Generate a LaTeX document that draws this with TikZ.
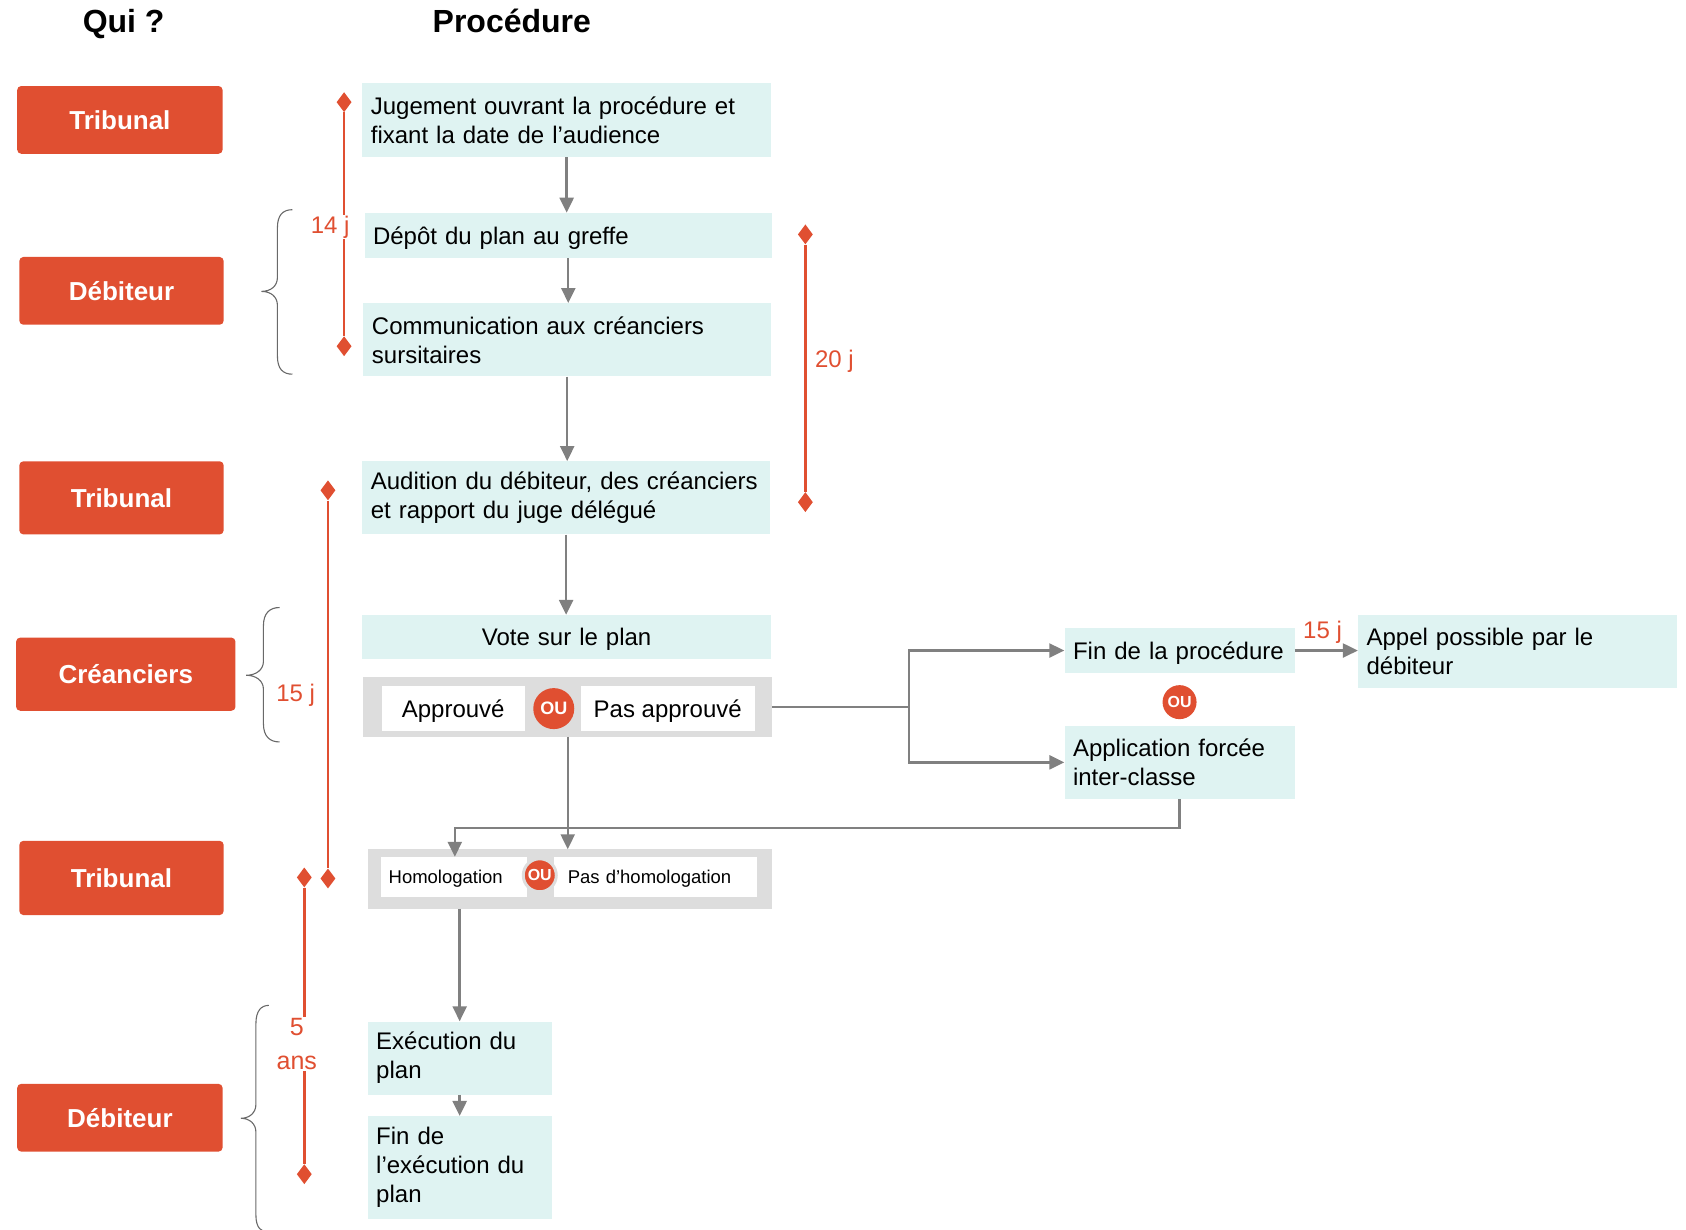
\documentclass[tikz,border=0pt]{standalone}
\usepackage{fontspec}
\setmainfont{Liberation Sans}
\usetikzlibrary{shapes.geometric,arrows.meta,calc}
\definecolor{ored}{RGB}{224,79,49}
\definecolor{cyanbg}{RGB}{223,243,242}
\definecolor{graybg}{RGB}{221,221,221}
\definecolor{arrgray}{RGB}{128,128,128}
\definecolor{bracegray}{RGB}{105,105,105}
\begin{document}
\begin{tikzpicture}[x=1.0753pt,y=-1.0753pt,
  who/.style 2 args={fill=ored, rounded corners=4pt, minimum width=#1*1.0753pt, minimum height=#2*1.0753pt, inner sep=0pt, text=white, font=\fontsize{26}{30}\selectfont\bfseries},
  pbox/.style 2 args={fill=cyanbg, minimum width=#1*1.0753pt, minimum height=#2*1.0753pt, text width=#1*1.0753pt-17pt, inner xsep=8.5pt, inner ysep=0pt, align=left, font=\fontsize{24}{29}\selectfont},
  oneline/.style={text depth=0pt},
  gbox/.style 2 args={fill=graybg, minimum width=#1*1.0753pt, minimum height=#2*1.0753pt, inner sep=0pt},
  wbox/.style 2 args={fill=white, minimum width=#1*1.0753pt, minimum height=#2*1.0753pt, inner sep=0pt, text depth=0pt},
  oucirc/.style={circle, fill=ored, text=white, inner sep=0pt, font=\bfseries},
  diam/.style={diamond, fill=ored, inner sep=0pt, minimum width=15pt, minimum height=20pt},
  tl/.style={draw=ored, line width=2.5pt},
  tlab/.style={text=ored, font=\fontsize{24}{29}\selectfont, inner sep=1pt},
  arr/.style={draw=arrgray, line width=2.4pt, -{Triangle[length=15pt,width=14pt]}},
  ln/.style={draw=arrgray, line width=2.4pt},
  brace/.style={draw=bracegray, line width=1.1pt},
  head/.style={font=\fontsize{32}{36}\selectfont\bfseries, text height=23pt, text depth=0.5pt}
]
\useasboundingbox (0,0) rectangle (1568,1143);

% headers
\node[head] (hqui) at (115,20) {Qui ?};
\node[head] (hproc) at (476,20) {Procédure};

% who boxes
\node[who={191}{63}] (w1) at (111.5,111.5) {Tribunal};
\node[who={190}{63}] (w2) at (113,270.5) {Débiteur};
\node[who={190}{68}] (w3) at (113,463) {Tribunal};
\node[who={204}{68}] (w4) at (117,627) {Créanciers};
\node[who={190}{69}] (w5) at (113,816.5) {Tribunal};
\node[who={191}{63}] (w6) at (111.5,1039.5) {Débiteur};

% procedure boxes
\node[pbox={380}{69}] (J) at (527,111.5) {Jugement ouvrant la procédure et\\fixant la date de l’audience};
\node[pbox={379}{42}, oneline] (Dp) at (528.5,219) {Dépôt du plan au greffe};
\node[pbox={379}{68}] (Cm) at (527.5,316) {Communication aux créanciers\\sursitaires};
\node[pbox={379}{68}] (Au) at (526.5,463) {Audition du débiteur, des créanciers\\et rapport du juge délégué};
\node[pbox={380}{41}, oneline, align=center] (V) at (527,592.5) {Vote sur le plan};

\node[gbox={380}{55}] (G1) at (528,657.5) {};
\node[wbox={133}{42}, font=\fontsize{24}{29}\selectfont] (Ap) at (421.5,659) {Approuvé};
\node[wbox={162}{42}, font=\fontsize{24}{29}\selectfont] (PA) at (621,659) {Pas approuvé};
\node[oucirc, minimum size=41pt, font=\fontsize{18}{20}\selectfont\bfseries] (ou1) at (515,659) {OU};

\node[gbox={376}{55}] (G2) at (530,817.5) {};
\node[wbox={136}{37}, text width=136*1.0753pt-16pt, inner xsep=8pt, align=left, font=\fontsize{18.5}{22}\selectfont] (H) at (422,815.5) {Homologation};
\node[wbox={189}{37}, text width=189*1.0753pt-28pt, inner xsep=14pt, align=left, font=\fontsize{18.5}{22}\selectfont] (PH) at (609.5,815.5) {Pas d’homologation};
\node[oucirc, draw=graybg, line width=3pt, minimum size=33pt, font=\fontsize{16}{18}\selectfont\bfseries] (ou2) at (502,814) {OU};

\node[pbox={171}{68}] (E) at (427.5,984) {Exécution du\\plan};
\node[pbox={171}{96}] (F) at (427.5,1086) {Fin de\\l’exécution du\\plan};

\node[pbox={214}{42}, oneline] (FP) at (1097,605) {Fin de la procédure};
\node[oucirc, minimum size=34pt, font=\fontsize{16}{18}\selectfont\bfseries] (ou3) at (1097,653) {OU};
\node[pbox={214}{68}] (AF) at (1097,709) {Application forcée\\inter-classe};
\node[pbox={297}{68}] (AP) at (1411.5,606) {Appel possible par le\\débiteur};

% connectors
\draw[arr] (J.south) -- (J.south |- Dp.north);
\draw[arr] (Dp.south) -- (Dp.south |- Cm.north);
\draw[arr] (Cm.south) -- (Cm.south |- Au.north);
\draw[arr] (Au.south) -- (Au.south |- V.north);
\draw[arr] (G1.south) -- (G1.south |- G2.north);
\coordinate (j1) at ($(G1.east)+(127,0)$);
\draw[ln] (G1.east) -- (j1);
\draw[arr] (j1) |- (FP.west);
\draw[arr] (j1) |- (AF.west);
\draw[arr] (FP.east) -- (FP.east -| AP.west);
\node[tlab] (l15b) at (1230,588) {15 j};
\coordinate (j2) at (423,770);
\draw[arr] (AF.south) |- (j2) -- (j2 |- H.north);
\draw[arr] (E.north |- G2.south) -- (E.north);
\draw[arr] (E.south) -- (E.south |- F.north);

% timelines
\node[diam] (d1a) at (320,95) {};
\node[diam] (d1b) at (320,322) {};
\draw[tl] (d1a) -- (d1b);
\node[tlab, fill=white] (l14) at (307,211) {14 j};

\node[diam] (d2a) at (749,218) {};
\node[diam] (d2b) at (749,467) {};
\draw[tl] (d2a) -- (d2b);
\node[tlab] (l20) at (776,336) {20 j};

\node[diam] (d3a) at (305,456) {};
\node[diam] (d3b) at (305,817) {};
\draw[tl] (d3a) -- (d3b);
\node[tlab] (l15a) at (275,647) {15 j};

\node[diam] (d4a) at (283,816) {};
\node[diam] (d4b) at (283,1092) {};
\draw[tl] (d4a) -- (d4b);
\node[tlab, fill=white, align=center, font=\fontsize{25}{34}\selectfont] (l5) at (276,971) {5\\ans};

% braces
\draw[brace] (272,195) .. controls (263,195) and (258,200) .. (258,212) -- (258,258) .. controls (258,266) and (252,271) .. (243,271) .. controls (252,271) and (258,276) .. (258,284) -- (258,331) .. controls (258,343) and (263,348) .. (272,348);
\draw[brace] (260,565) .. controls (251,565) and (245,570) .. (245,582) -- (245,615) .. controls (245,623) and (238,628) .. (229,628) .. controls (238,628) and (245,633) .. (245,641) -- (245,673) .. controls (245,685) and (251,690) .. (260,690);
\draw[brace] (250,935) .. controls (243,935) and (238,940) .. (238,952) -- (238,1027) .. controls (238,1035) and (232,1040) .. (224,1040) .. controls (232,1040) and (238,1045) .. (238,1053) -- (238,1130) .. controls (238,1142) and (243,1146) .. (250,1146);
\end{tikzpicture}
\end{document}
